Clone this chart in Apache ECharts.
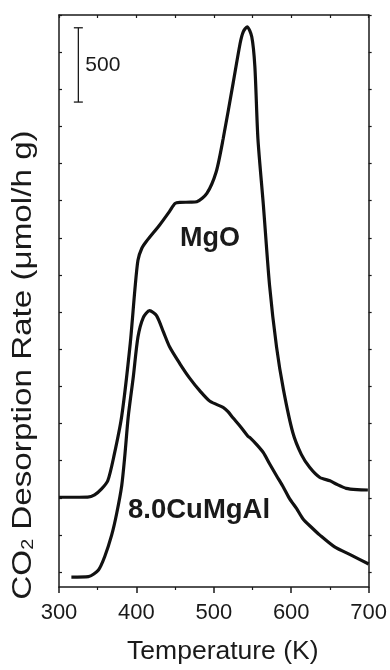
<!DOCTYPE html>
<html>
<head>
<meta charset="utf-8">
<script src="https://cdn.jsdelivr.net/npm/echarts@6/dist/echarts.min.js"></script>
<style>
html,body{margin:0;padding:0;background:#fff;}
#chart{width:390px;height:670px;}
</style>
</head>
<body>
<div id="chart"></div>
<script>
// Temperature (K) and desorption rate (arbitrary offset units, scale bar = 500)
const mgoT = [300, 320, 337, 346, 355, 363, 371, 381, 392, 398, 402, 407, 413, 430, 443, 450, 456, 470, 478, 491, 503, 512, 525, 534, 538, 543, 549, 553, 557, 564, 572, 581, 590, 602, 613, 624, 637, 650, 658, 671, 685, 699];
const mgoV = [504, 504, 505, 520, 560, 615, 782, 1049, 1537, 1900, 2100, 2180, 2227, 2337, 2430, 2482, 2489, 2490, 2493, 2549, 2693, 2915, 3293, 3560, 3637, 3671, 3604, 3404, 2915, 2471, 1930, 1516, 1227, 940, 793, 704, 637, 615, 593, 564, 555, 553];
const cuT = [316, 338, 351, 359, 368, 374.5, 381, 385, 389.5, 396, 402, 409, 417, 426, 435, 443, 456, 469, 482, 495, 512, 518, 525, 534, 544, 547, 556, 564, 572, 581, 590, 598, 607, 615, 626, 637, 656, 678, 700];
const cuV = [-33, -30, 15, 104, 249, 395, 582, 782, 1049, 1315, 1582, 1715, 1760, 1727, 1615, 1515, 1404, 1304, 1220, 1150, 1109, 1082, 1037, 982, 915, 904, 855, 804, 730, 649, 570, 493, 427, 360, 302, 249, 170, 113, 55];
const xTicks = [300, 400, 500, 600, 700];
const yTickValues = [0, 250, 500, 750, 1000, 1250, 1500, 1750, 2000, 2250, 2500, 2750, 3000, 3250, 3500, 3750];
const scaleBar = {x: 325, from: 3164, to: 3664, label: '500'};
const seriesNames = ['MgO', '8.0CuMgAl'];
const xTitle = 'Temperature (K)';
const yTitle = 'CO{sub|2} Desorption Rate (μmol/h g)';

const FONT = '"Liberation Sans", Arial, sans-serif';
const INK = '#1a1a1a';
const chart = echarts.init(document.getElementById('chart'), null, {renderer: 'canvas'});

const pairs = (t, v) => t.map((x, i) => [x, v[i]]);

const option = {
  animation: false,
  backgroundColor: '#fff',
  grid: {left: 59, right: 21, top: 15, bottom: 78, containLabel: false},
  xAxis: [{
    type: 'value', position: 'bottom', min: 300, max: 700, interval: 100,
    axisLine: {show: true, onZero: false, lineStyle: {color: INK, width: 1.5}},
    axisTick: {show: true, inside: false, length: 6, lineStyle: {color: INK, width: 1.5}},
    minorTick: {show: true, splitNumber: 2, length: 3, lineStyle: {color: INK, width: 1.2}},
    splitLine: {show: false},
    axisLabel: {fontSize: 22, color: INK, margin: 15, fontFamily: FONT,
      formatter: v => xTicks.includes(v) ? String(v) : ''},
    name: xTitle, nameLocation: 'middle', nameGap: 51,
    nameTextStyle: {fontSize: 26.5, color: INK, fontFamily: FONT, padding: [0, 0, 0, 18]}
  }, {
    type: 'value', position: 'top', min: 300, max: 700, interval: 50,
    axisLine: {show: true, onZero: false, lineStyle: {color: INK, width: 1.5}},
    axisTick: {show: true, inside: true, length: 3, lineStyle: {color: INK, width: 1.2}},
    axisLabel: {show: false}, splitLine: {show: false}
  }],
  yAxis: [{
    type: 'value', position: 'left', min: -100, max: 3750,
    axisLine: {show: true, onZero: false, lineStyle: {color: INK, width: 1.5}},
    axisTick: {show: true, inside: true, length: 3, customValues: yTickValues, lineStyle: {color: INK, width: 1.2}},
    axisLabel: {show: false}, splitLine: {show: false}
  }, {
    type: 'value', position: 'right', min: -100, max: 3750,
    axisLine: {show: true, onZero: false, lineStyle: {color: INK, width: 1.5}},
    axisTick: {show: true, inside: false, length: 3, customValues: yTickValues, lineStyle: {color: INK, width: 1.2}},
    axisLabel: {show: false}, splitLine: {show: false}
  }],
  series: [{
    name: seriesNames[0], type: 'line', data: pairs(mgoT, mgoV),
    showSymbol: false, smooth: 0.25, lineStyle: {color: '#111', width: 3.2}
  }, {
    name: seriesNames[1], type: 'line', data: pairs(cuT, cuV),
    showSymbol: false, smooth: 0.25, lineStyle: {color: '#111', width: 3.2}
  }, {
    type: 'custom', data: [[scaleBar.x, scaleBar.from, scaleBar.to]],
    renderItem: function (params, api) {
      const p1 = api.coord([api.value(0), api.value(1)]);
      const p2 = api.coord([api.value(0), api.value(2)]);
      const st = {stroke: INK, lineWidth: 1.3};
      return {type: 'group', children: [
        {type: 'line', shape: {x1: p1[0], y1: p1[1], x2: p2[0], y2: p2[1]}, style: st},
        {type: 'line', shape: {x1: p1[0] - 4.5, y1: p1[1], x2: p1[0] + 4.5, y2: p1[1]}, style: st},
        {type: 'line', shape: {x1: p2[0] - 4.5, y1: p2[1], x2: p2[0] + 4.5, y2: p2[1]}, style: st},
        {type: 'text', style: {text: scaleBar.label, x: p1[0] + 7, y: (p1[1] + p2[1]) / 2,
          fill: INK, font: '21px ' + FONT, textAlign: 'left', textVerticalAlign: 'middle'}}
      ]};
    }
  }],
  graphic: [
    {type: 'text', left: 180, top: 225, style: {text: seriesNames[0], fill: INK, font: 'bold 27px ' + FONT}},
    {type: 'text', left: 128, top: 496, style: {text: seriesNames[1], fill: INK, font: 'bold 27.5px ' + FONT}},
    {type: 'text', x: 23.5, y: 365, rotation: Math.PI / 2, scaleX: 1.23, scaleY: 1,
      style: {text: yTitle, fill: INK, font: '27px ' + FONT, align: 'center', verticalAlign: 'middle',
        rich: {sub: {fontSize: 16, fill: INK, fontFamily: FONT, verticalAlign: 'bottom', lineHeight: 16}}}}
  ]
};
chart.setOption(option);
</script>
</body>
</html>
